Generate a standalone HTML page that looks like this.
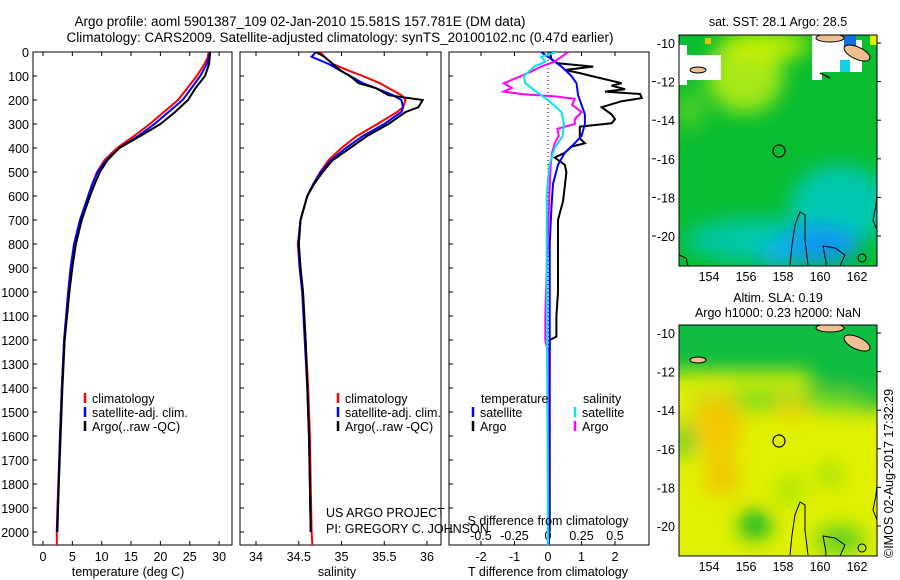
<!DOCTYPE html>
<html><head><meta charset="utf-8"><style>
html,body{margin:0;padding:0;background:#fff}
svg{display:block;font-family:"Liberation Sans",sans-serif}
</style></head><body>
<svg id="fig" width="900" height="580" viewBox="0 0 900 580">
<defs>
<clipPath id="cp1"><rect x="33" y="52" width="199" height="493"/></clipPath>
<clipPath id="cp2"><rect x="240" y="52" width="201" height="493"/></clipPath>
<clipPath id="cp3"><rect x="449" y="52" width="200" height="493"/></clipPath>
<clipPath id="cm1"><rect x="679" y="35" width="198" height="231"/></clipPath>
<clipPath id="cm2"><rect x="679" y="325" width="198" height="231"/></clipPath>
<filter id="bl" x="-50%" y="-50%" width="200%" height="200%"><feGaussianBlur stdDeviation="10"/></filter>
</defs>
<g font-size="13.5" fill="#000">
<text x="300" y="26" text-anchor="middle">Argo profile: aoml 5901387_109 02-Jan-2010 15.581S 157.781E (DM data)</text>
<text x="340" y="42" text-anchor="middle">Climatology: CARS2009. Satellite-adjusted climatology: synTS_20100102.nc (0.47d earlier)</text>
</g>
<g id="axes"></g>
<g id="marks"></g>
<!-- Map 1 -->
<g>
<text x="778" y="26" text-anchor="middle" font-size="12.5">sat. SST: 28.1  Argo: 28.5</text>
<g clip-path="url(#cm1)">
<rect x="679" y="35" width="198" height="231" fill="#08bd30"/>
<g filter="url(#bl)">
<ellipse cx="745" cy="75" rx="38" ry="38" fill="#a8e818"/>
<ellipse cx="765" cy="45" rx="45" ry="14" fill="#c8f000"/>
<ellipse cx="690" cy="110" rx="14" ry="20" fill="#50d020"/>
<ellipse cx="840" cy="205" rx="50" ry="40" fill="#00c8b0"/>
<ellipse cx="760" cy="240" rx="75" ry="22" fill="#00c8a8"/>
<ellipse cx="820" cy="245" rx="40" ry="20" fill="#1098f0"/>
<ellipse cx="780" cy="255" rx="22" ry="12" fill="#10b0f0"/>
</g>
<rect x="679" y="45" width="8" height="40" fill="#fff"/>
<rect x="687" y="55" width="34" height="25" fill="#fff"/>
<rect x="812" y="35" width="10" height="45" fill="#fff"/>
<rect x="822" y="40" width="40" height="32" fill="#fff"/>
<rect x="840" y="60" width="10" height="12" fill="#10d0e8"/>
<rect x="844" y="35" width="12" height="12" fill="#1070e0"/>
<rect x="870" y="35" width="7" height="10" fill="#e0f000"/>
<rect x="705" y="38" width="6" height="6" fill="#f0c000"/>
<ellipse cx="830" cy="38" rx="14" ry="4" fill="#f0c090" stroke="#000" stroke-width="1"/>
<ellipse cx="857" cy="53" rx="14" ry="6" fill="#f0c090" stroke="#000" stroke-width="1" transform="rotate(25 857 53)"/>
<ellipse cx="698" cy="70" rx="8" ry="3" fill="#f0c090" stroke="#000" stroke-width="1"/>
<path d="M820,73 L830,78" stroke="#000" stroke-width="1.5"/>
<path d="M790,265 L792,245 L795,225 L800,212 L805,215 L805,240 L808,265" fill="none" stroke="#000" stroke-width="1"/>
<path d="M825,278 L826,262 L823,246 L835,248 L845,255 L840,266" fill="none" stroke="#000" stroke-width="1"/>
<path d="M877,230 L873,220 L876,205 L877,195" fill="none" stroke="#000" stroke-width="1"/>
<path d="M679,255 L686,258 L688,266" fill="none" stroke="#000" stroke-width="1"/>
<circle cx="862" cy="258" r="4" fill="none" stroke="#000"/>
</g>
<rect x="679" y="35" width="198" height="231" fill="none" stroke="#000" stroke-width="1"/>
<circle cx="779" cy="151" r="6" fill="none" stroke="#000" stroke-width="1.2"/>
</g>
<!-- Map 2 -->
<g>
<text x="778" y="302" text-anchor="middle" font-size="12.5">Altim. SLA: 0.19</text>
<text x="778" y="317" text-anchor="middle" font-size="12.5">Argo h1000: 0.23 h2000: NaN</text>
<g clip-path="url(#cm2)">
<rect x="679" y="325" width="198" height="231" fill="#e0f000"/>
<g filter="url(#bl)">
<rect x="660" y="300" width="240" height="72" fill="#08bc40"/>
<rect x="810" y="300" width="80" height="110" fill="#08bc40"/>
<ellipse cx="780" cy="400" rx="90" ry="10" fill="#70d820"/>
<ellipse cx="718" cy="425" rx="25" ry="30" fill="#f4c800"/>
<ellipse cx="722" cy="475" rx="18" ry="22" fill="#f0c800"/>
<ellipse cx="790" cy="410" rx="18" ry="10" fill="#f0d000"/>
<ellipse cx="684" cy="440" rx="8" ry="18" fill="#20c040"/>
<ellipse cx="755" cy="525" rx="16" ry="14" fill="#00b030"/>
<ellipse cx="840" cy="540" rx="25" ry="15" fill="#60d020"/>
<ellipse cx="790" cy="490" rx="14" ry="18" fill="#b0e800"/>
<ellipse cx="830" cy="475" rx="10" ry="12" fill="#90e010"/>
</g>
<ellipse cx="830" cy="328" rx="14" ry="4" fill="#f0c090" stroke="#000"/>
<ellipse cx="857" cy="343" rx="14" ry="6" fill="#f0c090" stroke="#000" transform="rotate(25 857 343)"/>
<ellipse cx="698" cy="360" rx="8" ry="3" fill="#f0c090" stroke="#000"/>
<path d="M790,555 L792,535 L795,515 L800,502 L805,505 L805,530 L808,555" fill="none" stroke="#000"/>
<path d="M825,568 L826,552 L823,536 L835,538 L845,545 L840,556" fill="none" stroke="#000"/>
<path d="M877,520 L873,510 L876,495 L877,485" fill="none" stroke="#000"/>
<circle cx="862" cy="548" r="4" fill="none" stroke="#000"/>
</g>
<rect x="679" y="325" width="198" height="231" fill="none" stroke="#000"/>
<circle cx="779" cy="441" r="6" fill="none" stroke="#000" stroke-width="1.2"/>
</g>
<text transform="translate(893,558) rotate(-90)" font-size="12.5">©IMOS 02-Aug-2017 17:32:29</text>
<g font-size="12.5">
<text x="326" y="517">US ARGO PROJECT</text>
<text x="326" y="533">PI: GREGORY C. JOHNSON</text>
<text x="548" y="525" text-anchor="middle">S difference from climatology</text>
<text x="128" y="576" text-anchor="middle">temperature (deg C)</text>
<text x="337" y="576" text-anchor="middle">salinity</text>
<text x="548" y="576" text-anchor="middle">T difference from climatology</text>
</g>
<script>
// ---- data ----
const depthTick = [0,100,200,300,400,500,600,700,800,900,1000,1100,1200,1300,1400,1500,1600,1700,1800,1900,2000];
const tempTicks = [0,5,10,15,20,25,30];
const salTicks = [34,34.5,35,35.5,36];
const salTickLabels = ["34","34.5","35","35.5","36"];
const tdiffTicks = [-2,-1,0,1,2];
const sdiffTicks = [-0.5,-0.25,0,0.25,0.5];
const sdiffTickLabels = ["-0.5","-0.25","0","0.25","0.5"];
const lonTicks = [154,156,158,160,162];
const latTicks = [-10,-12,-14,-16,-18,-20];

const depthT = [0,20,50,100,150,200,250,300,350,400,450,500,550,600,700,800,900,1000,1200,1400,1600,1800,1900,2000,2054];
const climT = [28.2,28.1,27.5,26.2,24.6,23.0,20.6,18.2,15.5,12.6,10.5,9.2,8.4,7.7,6.3,5.3,4.7,4.3,3.6,3.2,2.9,2.6,2.45,2.35,2.35];
const depthSatT = [0,20,50,100,150,200,250,300,350,400,450,500,550,600,700,800,900,1000,1200,1400,1600,1800,1900,2000];
const satT = [28.4,28.3,27.9,26.8,25.3,23.8,21.4,19.0,16.2,13.0,10.8,9.3,8.4,7.7,6.3,5.3,4.7,4.3,3.6,3.2,2.9,2.65,2.5,2.35];
const depthArgoT = [0,20,50,100,150,200,250,300,350,400,450,500,550,600,700,800,900,1000,1200,1400,1600,1800,2000];
const argoT = [28.5,28.4,28.3,27.6,26.0,24.7,22.5,20.0,16.6,13.0,11.0,9.7,8.8,8.0,6.6,5.6,5.0,4.5,3.7,3.3,3.0,2.7,2.45];

const depthS = [0,20,50,80,100,130,150,180,200,230,250,300,350,400,450,500,550,600,700,800,900,1000,1200,1400,1600,1800,2000,2054];
const climS = [34.75,34.8,34.9,35.1,35.25,35.45,35.55,35.7,35.75,35.72,35.65,35.42,35.18,35.0,34.85,34.75,34.67,34.6,34.52,34.5,34.52,34.55,34.58,34.61,34.63,34.64,34.65,34.66];
const depthSatS = [0,20,50,80,100,130,150,180,200,230,250,300,350,400,450,500,550,600,700,800,900,1000,1200,1400,1600,1800,2000];
const satS = [34.7,34.65,34.85,35.0,35.1,35.25,35.4,35.6,35.7,35.72,35.7,35.5,35.25,35.05,34.88,34.76,34.67,34.6,34.52,34.49,34.51,34.54,34.57,34.6,34.62,34.63,34.64];
const argoS = [34.7,34.8,34.9,35.0,35.1,35.2,35.4,35.55,35.95,35.9,35.75,35.55,35.3,35.1,34.9,34.78,34.68,34.6,34.52,34.5,34.52,34.55,34.58,34.6,34.62,34.63,34.64];

const depthArgoDT = [0,30,47,61,75,88,100,130,140,155,165,175,192,205,230,260,280,297,311,360,380,394,420,440,470,500,560,620,700,800,900,1000,1100,1186,1200,2000];
const argoDT = [0.06,0.1,0.3,1.35,0.5,0.95,1.3,2.2,1.9,2.3,1.7,2.75,2.8,2.2,1.6,1.9,2.0,1.9,0.95,0.95,1.1,0.7,0.5,0.2,0.5,0.55,0.5,0.45,0.3,0.3,0.3,0.3,0.25,0.25,0.05,0.05];
const depthSatDT = [0,30,60,100,130,180,220,260,300,350,380,420,470,550,650,800,1200,2054];
const satDT = [-0.2,0.1,0.4,0.7,0.85,0.9,1.0,1.1,1.1,1.0,0.8,0.5,0.3,0.15,0.1,0.05,0.05,0.03];
const depthArgoDS = [0,40,60,80,100,130,150,165,175,185,195,220,250,280,300,320,350,380,420,470,600,900,1100,1200,1250,2000];
const argoDS = [0.15,0.05,-0.05,-0.12,-0.2,-0.33,-0.27,-0.33,-0.2,0.05,0.2,0.18,0.25,0.2,0.2,0.07,0.08,0.05,0.03,0.02,0.01,-0.01,-0.02,-0.02,0,0];
const depthSatDS = [0,20,40,60,100,130,160,200,250,300,350,400,470,600,900,2054];
const satDS = [0.06,-0.05,-0.02,-0.1,-0.18,-0.17,-0.1,0.0,0.1,0.12,0.11,0.05,0.01,-0.01,-0.01,0];

// ---- axis functions ----
const yD = d => 52 + d*0.24;
const xT = t => 43 + t*5.87;
const xS = s => 256 + (s-34)*85.5;
const xDT = v => 548 + v*33.5;
const xDS = v => 548 + v*134;
const xLon = l => 709 + (l-154)*18.5;
const yLat1 = l => 43 + (-10-l)*19.3;
const yLat2 = l => 333 + (-10-l)*19.3;

const NS = "http://www.w3.org/2000/svg";
const axes = document.getElementById('axes');
const marks = document.getElementById('marks');
function mk(tag, attrs, parent){
  const e = document.createElementNS(NS, tag);
  for (const k in attrs) e.setAttribute(k, attrs[k]);
  parent.appendChild(e);
  return e;
}
function txt(x,y,s,anchor,parent){
  const t = mk('text',{x:x,y:y,'text-anchor':anchor,'font-size':'12.5'},parent);
  t.textContent = s;
  return t;
}
const panels = [[33,232],[240,441],[449,649]];
panels.forEach((p,i)=>{
  const r = mk('rect',{x:p[0],y:52,width:p[1]-p[0],height:493,fill:'none',stroke:'#000','stroke-width':1},axes);
  
  
  depthTick.forEach(d=>{
    mk('line',{x1:p[0],x2:p[0]+4,y1:yD(d),y2:yD(d),stroke:'#000'},axes);
  });
});
depthTick.forEach(d=>{
  const t = txt(29, yD(d)+5, String(d), 'end', axes);
  
  
});
latTicks.slice(1).forEach(l=>{
  mk('line',{x1:652,x2:656,y1:yLat1(l),y2:yLat1(l),stroke:'#000'},axes);
});
tempTicks.forEach(v=>{
  const x = xT(v);
  mk('line',{x1:x,x2:x,y1:52,y2:56,stroke:'#000'},axes);
  mk('line',{x1:x,x2:x,y1:545,y2:541,stroke:'#000'},axes);
  const t = txt(x, 561, String(v), 'middle', axes);
  
  
});
salTicks.forEach((v,i)=>{
  const x = xS(v);
  mk('line',{x1:x,x2:x,y1:52,y2:56,stroke:'#000'},axes);
  mk('line',{x1:x,x2:x,y1:545,y2:541,stroke:'#000'},axes);
  const t = txt(x, 561, salTickLabels[i], 'middle', axes);
  
  
});
tdiffTicks.forEach(v=>{
  const x = xDT(v);
  mk('line',{x1:x,x2:x,y1:545,y2:541,stroke:'#000'},axes);
  const t = txt(x, 561, String(v), 'middle', axes);
  
  
});
sdiffTicks.forEach((v,i)=>{
  const x = xDS(v);
  mk('line',{x1:x,x2:x,y1:52,y2:56,stroke:'#000'},axes);
  const t = txt(x, 540, sdiffTickLabels[i], 'middle', axes);
  
  
});
mk('line',{x1:548,x2:548,y1:52,y2:545,stroke:'#000','stroke-dasharray':'1,3'},axes);
[[yLat1,266,281],[yLat2,556,571]].forEach(m=>{
  const yl = m[0];
  lonTicks.forEach(l=>{
    const x = xLon(l);
    mk('line',{x1:x,x2:x,y1:m[1],y2:m[1]-4,stroke:'#000'},axes);
    mk('line',{x1:x,x2:x,y1:m[1]-231,y2:m[1]-227,stroke:'#000'},axes);
    const t = txt(x, m[2], String(l), 'middle', axes);
    
    
  });
  latTicks.forEach(l=>{
    const y = yl(l);
    mk('line',{x1:877,x2:881,y1:y,y2:y,stroke:'#000'},axes);
    const t = txt(675, y+5, String(l), 'end', axes);
    
    
  });
});
function line(xs, ds, xf, color, clip, name, w){
  const pts = xs.map((v,i)=> xf(v).toFixed(1)+','+yD(ds[i]).toFixed(1)).join(' ');
  const pl = mk('polyline',{points:pts,fill:'none',stroke:color,'stroke-width':w||2,'clip-path':'url(#'+clip+')'},marks);
  
  
}
line(climT, depthT, xT, '#ff0000', 'cp1', 'temp-climatology-line');
line(satT, depthSatT, xT, '#0000ff', 'cp1', 'temp-satellite-line');
line(argoT, depthArgoT, xT, '#000000', 'cp1', 'temp-argo-line');
line(climS, depthS, xS, '#ff0000', 'cp2', 'sal-climatology-line');
line(satS, depthSatS, xS, '#0000ff', 'cp2', 'sal-satellite-line');
line(argoS, depthSatS, xS, '#000000', 'cp2', 'sal-argo-line');
line(argoDT, depthArgoDT, xDT, '#000000', 'cp3', 'tdiff-argo-line');
line(satDT, depthSatDT, xDT, '#0000ff', 'cp3', 'tdiff-satellite-line');
line(argoDS, depthArgoDS, xDS, '#ff00ff', 'cp3', 'sdiff-argo-line');
line(satDS, depthSatDS, xDS, '#00e5ee', 'cp3', 'sdiff-satellite-line');
function leg(x, y, color, label, name){
  mk('line',{x1:x,x2:x,y1:y-10,y2:y,stroke:color,'stroke-width':2.5},marks);
  const t = txt(x+7, y, label, 'start', marks);
  
  
}
leg(85,403,'#ff0000','climatology','legend-climatology-temp');
leg(85,417,'#0000ff','satellite-adj. clim.','legend-satellite-temp');
leg(85,431,'#000000','Argo(..raw -QC)','legend-argo-temp');
leg(338,403,'#ff0000','climatology','legend-climatology-sal');
leg(338,417,'#0000ff','satellite-adj. clim.','legend-satellite-sal');
leg(338,431,'#000000','Argo(..raw -QC)','legend-argo-sal');
const th = txt(481,403,'temperature','start',marks);


const sh = txt(583,403,'salinity','start',marks);


leg(473,417,'#0000ff','satellite','legend-tdiff-satellite');
leg(473,431,'#000000','Argo','legend-tdiff-argo');
leg(575,417,'#00e5ee','satellite','legend-sdiff-satellite');
leg(575,431,'#ff00ff','Argo','legend-sdiff-argo');
</script>
</svg>
</body></html>
